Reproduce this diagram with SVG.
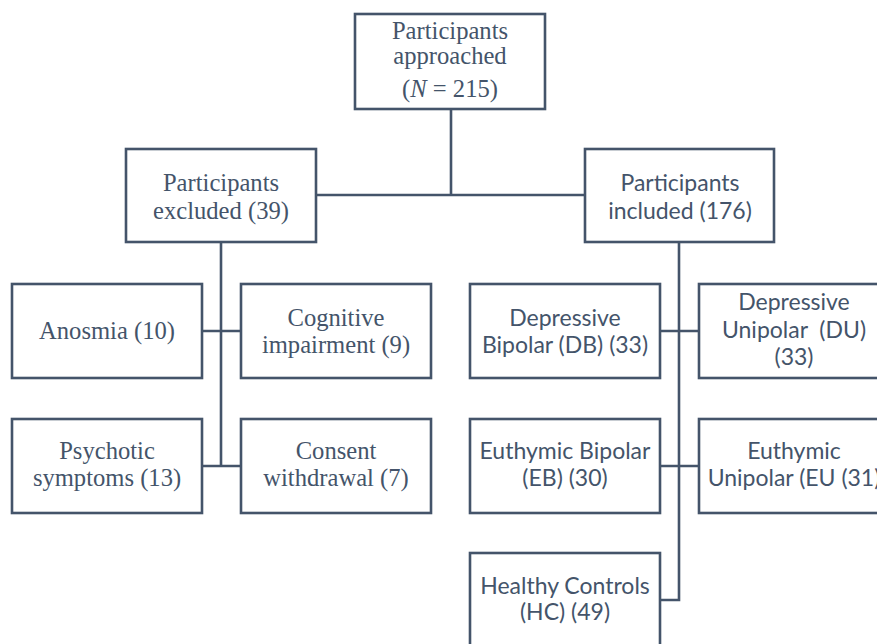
<svg xmlns="http://www.w3.org/2000/svg" width="877" height="644" viewBox="0 0 877 644">
<style>
.box{fill:#fff;stroke:#44546a;stroke-width:2.6}
.ln{fill:none;stroke:#44546a;stroke-width:2.6}
.s{font-family:"Liberation Serif","Times New Roman",serif;font-size:24.6px;fill:#44546a;text-anchor:middle}
.c{font-family:Lato,"Liberation Sans",sans-serif;font-size:23px;fill:#44546a;text-anchor:middle}
</style>
<rect width="877" height="644" fill="#fff"/>
<g id="connectors">
<path class="ln" d="M451 109V195M316 195H585"/>
<path class="ln" d="M221 242V466M202 331H241M202 466H241"/>
<path class="ln" d="M679 242V600H660M660 331H699M660 466H699"/>
</g>
<g id="approached"><rect class="box" x="355" y="14" width="190" height="95"/>
<text class="s" x="450" y="39">Participants</text><text class="s" x="450" y="64">approached</text>
<text class="s" x="450" y="97">(<tspan font-style="italic">N</tspan> = 215)</text></g>
<g id="excluded"><rect class="box" x="126" y="149" width="190" height="93"/>
<text class="s" x="221" y="191">Participants</text><text class="s" x="221" y="219">excluded (39)</text></g>
<g id="included"><rect class="box" x="585" y="149" width="189" height="93"/>
<text class="c" x="680" y="191">Participants</text><text class="c" x="680" y="219">included (176)</text></g>
<g id="anosmia"><rect class="box" x="12" y="284" width="190" height="94"/>
<text class="s" x="107" y="339">Anosmia (10)</text></g>
<g id="cognitive"><rect class="box" x="241" y="284" width="190" height="94"/>
<text class="s" x="336" y="326">Cognitive</text><text class="s" x="336" y="353">impairment (9)</text></g>
<g id="psychotic"><rect class="box" x="12" y="419" width="190" height="94"/>
<text class="s" x="107" y="459">Psychotic</text><text class="s" x="107" y="486">symptoms (13)</text></g>
<g id="consent"><rect class="box" x="241" y="419" width="190" height="94"/>
<text class="s" x="336" y="459">Consent</text><text class="s" x="336" y="486">withdrawal (7)</text></g>
<g id="db"><rect class="box" x="470" y="284" width="190" height="94"/>
<text class="c" x="565" y="326">Depressive</text><text class="c" x="565" y="353">Bipolar (DB) (33)</text></g>
<g id="du"><rect class="box" x="699" y="284" width="190" height="94"/>
<text class="c" x="794" y="310">Depressive</text><text class="c" x="794" y="338" xml:space="preserve">Unipolar  (DU)</text><text class="c" x="794" y="365">(33)</text></g>
<g id="eb"><rect class="box" x="470" y="419" width="190" height="94"/>
<text class="c" x="565" y="459">Euthymic Bipolar</text><text class="c" x="565" y="486">(EB) (30)</text></g>
<g id="eu"><rect class="box" x="699" y="419" width="190" height="94"/>
<text class="c" x="794" y="459">Euthymic</text><text class="c" x="794" y="486">Unipolar (EU (31)</text></g>
<g id="hc"><rect class="box" x="470" y="553" width="190" height="100"/>
<text class="c" x="565" y="594">Healthy Controls</text><text class="c" x="565" y="620">(HC) (49)</text></g>
</svg>
